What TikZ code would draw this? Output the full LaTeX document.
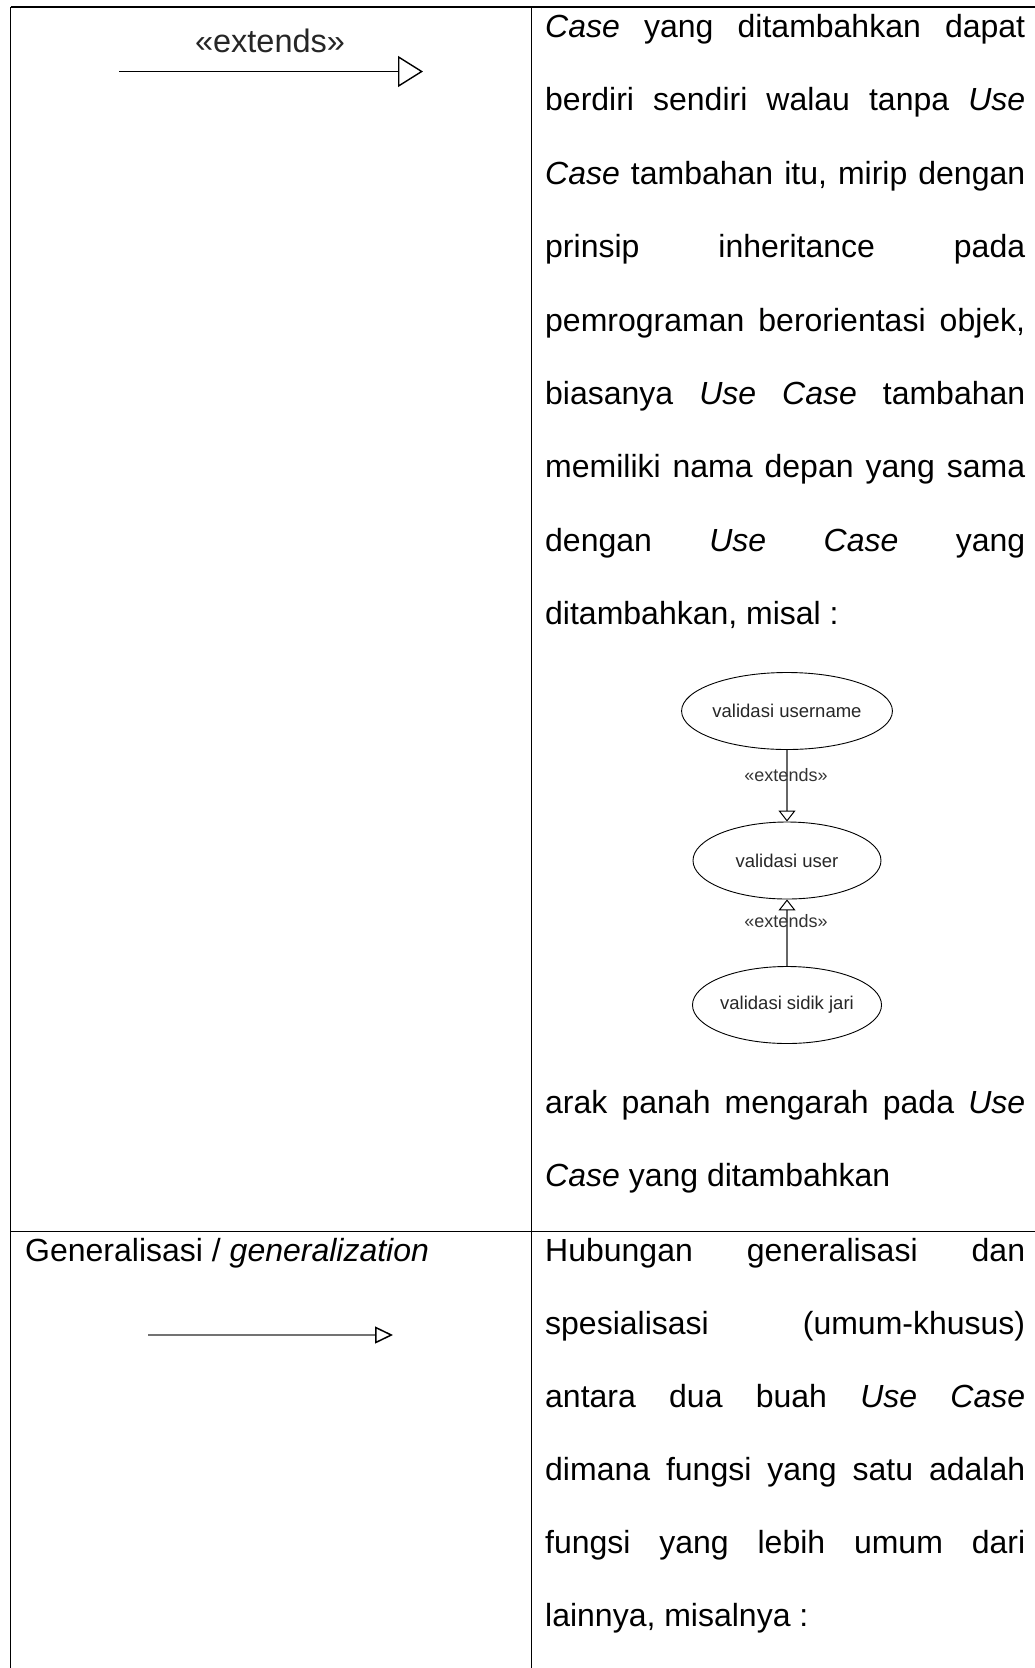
\documentclass[tikz,border=0pt]{standalone}
\usepackage{fontspec}
\setmainfont{Liberation Sans}
\usetikzlibrary{arrows.meta,shapes.geometric}
\newcommand\JustLine[1]{\makebox[480pt][s]{#1}}
\begin{document}
\frenchspacing
\begin{tikzpicture}[x=1pt,y=-1pt,
  txt/.style={anchor=base west, inner sep=0pt, font=\fontsize{32}{38}\selectfont},
  rule/.style={line width=1.3pt, draw=black},
  uc/.style={ellipse, draw=black, line width=0.9pt, minimum width=188pt, minimum height=77pt,
             inner sep=0pt, font=\fontsize{18.5}{22}\selectfont, text=black!85},
  ext/.style={font=\fontsize{18}{22}\selectfont, text=black!80, inner sep=0pt},
  conn/.style={draw=black!60, line width=1.4pt},
  smalltip/.style={-{Triangle[length=11pt,width=17pt,color=black,fill=white,line width=1pt]}},
]
\useasboundingbox (0,0) rectangle (1035,1668);

% table rules
\coordinate (tl) at (10.5,7);
\coordinate (tr) at (1035,7);
\coordinate (bl) at (10.5,1668);
\coordinate (tm) at (531.5,7);
\coordinate (bm) at (531.5,1668);
\coordinate (sl) at (10.5,1231.5);
\coordinate (sr) at (1035,1231.5);
\draw[rule] (tl) -- (tr);
\draw[rule] (tl) -- (bl);
\draw[rule] (tm) -- (bm);
\draw[rule] (sl) -- (sr);

% row 1, left: extends arrow
\node[anchor=base, inner sep=0pt, font=\fontsize{32.5}{36}\selectfont, text=black!85] (extlbl) at (270,52) {«extends»};
\coordinate (e1s) at (119,71.5);
\coordinate (e1e) at (423,71.5);
\draw[line width=1.4pt, -{Triangle[length=25pt,width=31pt,color=black,fill=white,line width=1.4pt]}] (e1s) -- (e1e);

% row 1, right: text
\node[txt] (r1a) at (545,37.5)  {\JustLine{\textit{Case} yang ditambahkan dapat}};
\node[txt] (r1b) at (545,110.9) {\JustLine{berdiri sendiri walau tanpa \textit{Use}}};
\node[txt] (r1c) at (545,184.3) {\JustLine{\textit{Case} tambahan itu, mirip dengan}};
\node[txt] (r1d) at (545,257.7) {\JustLine{prinsip inheritance pada}};
\node[txt] (r1e) at (545,331.1) {\JustLine{pemrograman berorientasi objek,}};
\node[txt] (r1f) at (545,404.5) {\JustLine{biasanya \textit{Use Case} tambahan}};
\node[txt] (r1g) at (545,477.9) {\JustLine{memiliki nama depan yang sama}};
\node[txt] (r1h) at (545,551.3) {\JustLine{dengan \textit{Use Case} yang}};
\node[txt] (r1i) at (545,624.7) {ditambahkan, misal :};

% small use case diagram
\node[uc] (u1) at (787,711)   {validasi username};
\node[uc] (u2) at (787,860.5) {validasi user};
\node[uc] (u3) at (787,1005)  {validasi sidik jari};
\draw[conn, smalltip] (u1) -- (u2);
\draw[conn, smalltip] (u3) -- (u2);
\node[ext] (l1) at (786,775) {«extends»};
\node[ext] (l2) at (786,921) {«extends»};

\node[txt] (r1j) at (545,1113) {\JustLine{arak panah mengarah pada \textit{Use}}};
\node[txt] (r1k) at (545,1186) {\textit{Case} yang ditambahkan};

% row 2, left
\node[txt] (r2left) at (25,1261) {Generalisasi / \textit{generalization}};
\coordinate (g1s) at (148,1335);
\coordinate (g1e) at (393,1335);
\draw[draw=black!55, line width=2pt, -{Triangle[length=18pt,width=17pt,color=black,fill=white,line width=1.5pt]}] (g1s) -- (g1e);

% row 2, right
\node[txt] (r2a) at (545,1261) {\JustLine{Hubungan generalisasi dan}};
\node[txt] (r2b) at (545,1334) {\JustLine{spesialisasi (umum-khusus)}};
\node[txt] (r2c) at (545,1407) {\JustLine{antara dua buah \textit{Use Case}}};
\node[txt] (r2d) at (545,1480) {\JustLine{dimana fungsi yang satu adalah}};
\node[txt] (r2e) at (545,1553) {\JustLine{fungsi yang lebih umum dari}};
\node[txt] (r2f) at (545,1626) {lainnya, misalnya :};
\end{tikzpicture}
\end{document}
